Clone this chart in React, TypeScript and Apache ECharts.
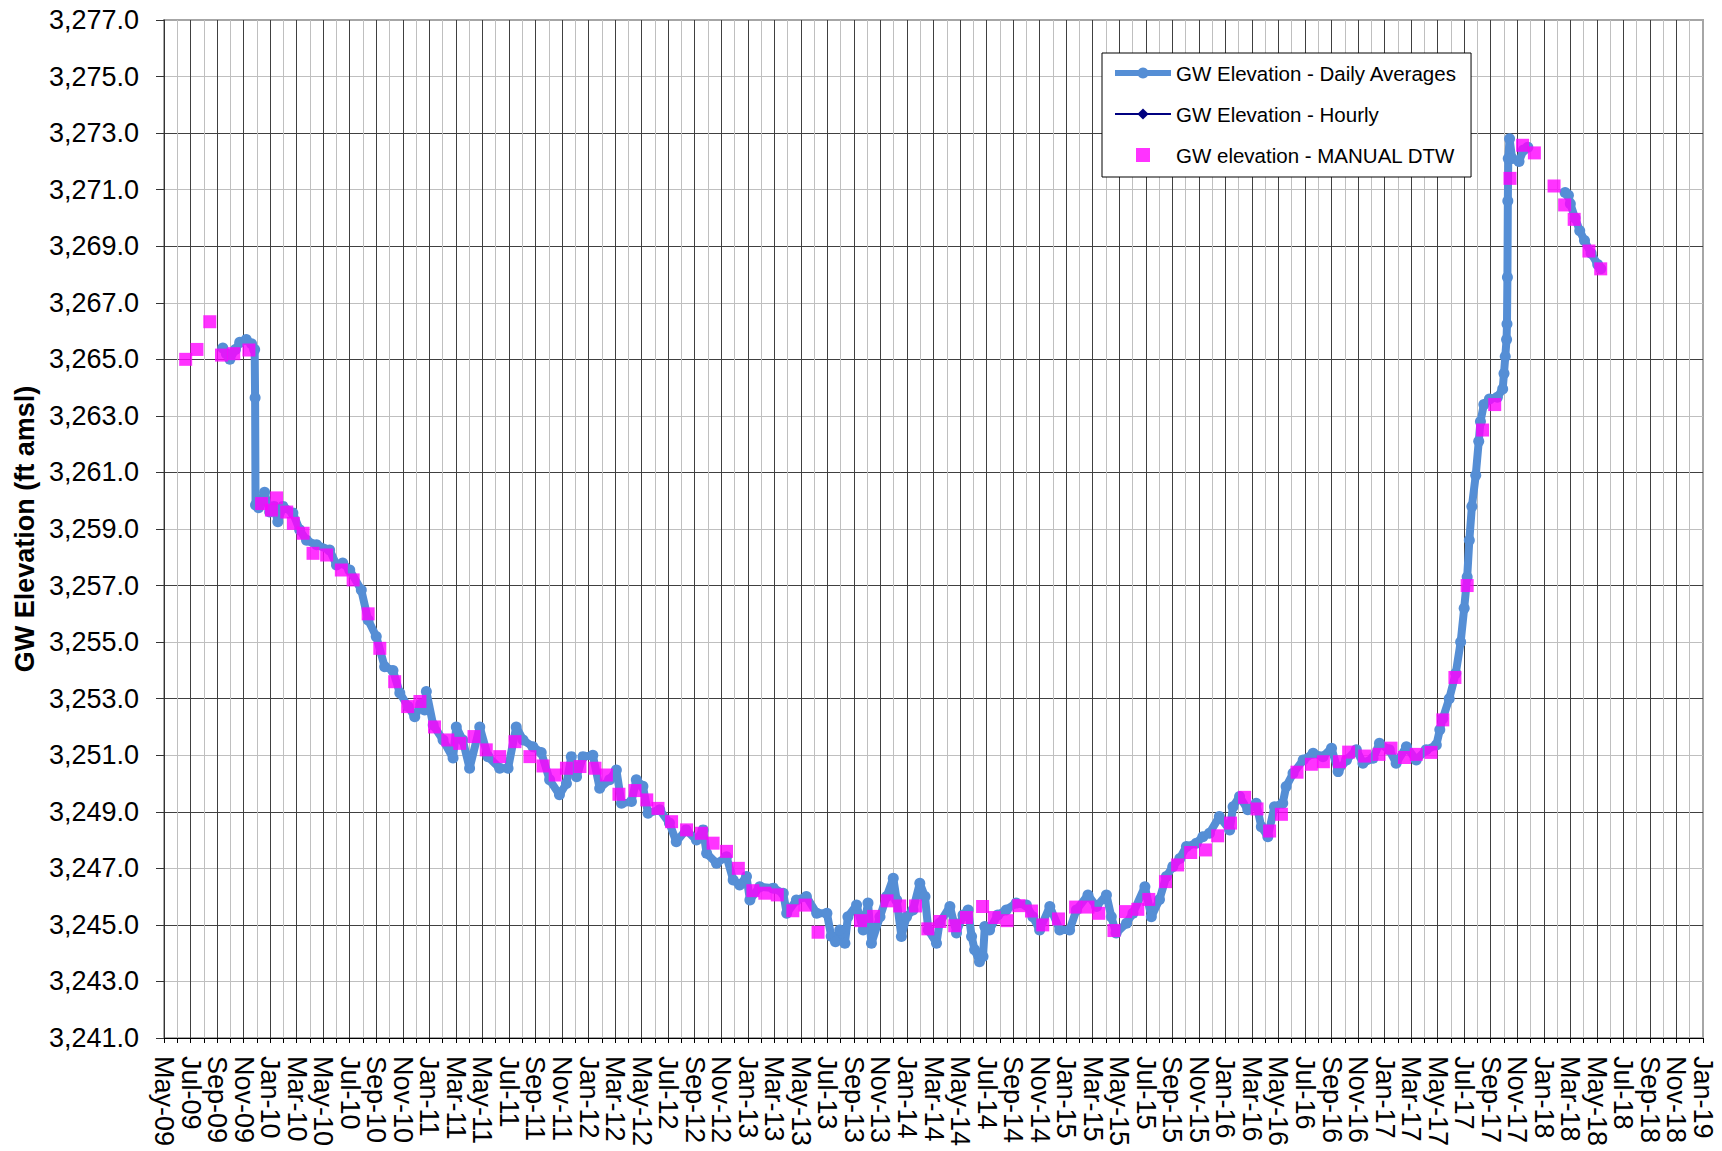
import React, { useEffect, useRef } from 'react';
import * as echarts from 'echarts';

const FONT = '"Liberation Sans", Arial, Helvetica, sans-serif';

// Axis tick labels (every 2 months from May-09, index = months since May-09)
const X_TICK_LABELS = [
  'May-09', 'Jul-09', 'Sep-09', 'Nov-09',
  'Jan-10', 'Mar-10', 'May-10', 'Jul-10', 'Sep-10', 'Nov-10',
  'Jan-11', 'Mar-11', 'May-11', 'Jul-11', 'Sep-11', 'Nov-11',
  'Jan-12', 'Mar-12', 'May-12', 'Jul-12', 'Sep-12', 'Nov-12',
  'Jan-13', 'Mar-13', 'May-13', 'Jul-13', 'Sep-13', 'Nov-13',
  'Jan-14', 'Mar-14', 'May-14', 'Jul-14', 'Sep-14', 'Nov-14',
  'Jan-15', 'Mar-15', 'May-15', 'Jul-15', 'Sep-15', 'Nov-15',
  'Jan-16', 'Mar-16', 'May-16', 'Jul-16', 'Sep-16', 'Nov-16',
  'Jan-17', 'Mar-17', 'May-17', 'Jul-17', 'Sep-17', 'Nov-17',
  'Jan-18', 'Mar-18', 'May-18', 'Jul-18', 'Sep-18', 'Nov-18',
  'Jan-19',
];
const Y_TICK_VALUES = [
  3241, 3243, 3245, 3247, 3249, 3251, 3253, 3255, 3257, 3259,
  3261, 3263, 3265, 3267, 3269, 3271, 3273, 3275, 3277,
];

// GW Elevation - Daily Averages (null = gap in record)
const DAILY: [string, number | null][] = [
  ['2009-09-14', 3265.4], ['2009-09-22', 3265.2], ['2009-09-30', 3265.0],
  ['2009-10-13', 3265.35], ['2009-10-23', 3265.6], ['2009-11-07', 3265.7],
  ['2009-11-19', 3265.55], ['2009-11-26', 3265.35], ['2009-11-27', 3263.64],
  ['2009-11-28', 3259.85], ['2009-12-05', 3259.75], ['2009-12-12', 3260.0],
  ['2009-12-19', 3260.3], ['2009-12-31', 3259.6], ['2010-01-10', 3259.8],
  ['2010-01-19', 3259.26], ['2010-01-31', 3259.8], ['2010-02-21', 3259.57],
  ['2010-03-08', 3258.97], ['2010-03-24', 3258.6], ['2010-04-16', 3258.44],
  ['2010-05-16', 3258.26], ['2010-06-01', 3257.73], ['2010-06-15', 3257.8],
  ['2010-07-01', 3257.55], ['2010-07-28', 3256.84], ['2010-08-13', 3255.78],
  ['2010-09-01', 3255.2], ['2010-09-20', 3254.13], ['2010-10-09', 3254.0],
  ['2010-10-25', 3253.2], ['2010-11-13', 3252.72], ['2010-11-28', 3252.36],
  ['2010-12-12', 3252.8], ['2010-12-21', 3252.6], ['2010-12-25', 3253.25],
  ['2011-01-10', 3252.07], ['2011-02-02', 3251.54], ['2011-02-23', 3250.9],
  ['2011-03-02', 3252.0], ['2011-03-17', 3251.54], ['2011-04-02', 3250.54],
  ['2011-04-25', 3252.0], ['2011-05-14', 3250.95], ['2011-06-10', 3250.54],
  ['2011-06-29', 3250.54], ['2011-07-18', 3252.0], ['2011-08-03', 3251.54],
  ['2011-08-26', 3251.3], ['2011-09-14', 3251.1], ['2011-10-03', 3250.13],
  ['2011-10-26', 3249.6], ['2011-11-11', 3250.0], ['2011-11-22', 3250.95],
  ['2011-12-04', 3250.24], ['2011-12-19', 3250.95], ['2012-01-11', 3251.0],
  ['2012-01-27', 3249.83], ['2012-02-18', 3250.13], ['2012-03-04', 3250.48],
  ['2012-03-16', 3249.3], ['2012-04-08', 3249.36], ['2012-04-19', 3250.13],
  ['2012-05-04', 3249.9], ['2012-05-16', 3248.95], ['2012-06-12', 3249.07],
  ['2012-07-04', 3248.6], ['2012-07-20', 3247.94], ['2012-08-12', 3248.36],
  ['2012-09-05', 3248.0], ['2012-09-20', 3248.36], ['2012-09-28', 3247.53],
  ['2012-10-21', 3247.18], ['2012-11-13', 3247.41], ['2012-11-28', 3246.59],
  ['2012-12-13', 3246.41], ['2012-12-29', 3246.71], ['2013-01-06', 3245.88],
  ['2013-01-29', 3246.35], ['2013-02-27', 3246.3], ['2013-03-22', 3246.12],
  ['2013-03-30', 3245.41], ['2013-04-21', 3245.88], ['2013-05-14', 3246.0],
  ['2013-06-07', 3245.41], ['2013-06-30', 3245.41], ['2013-07-10', 3244.6],
  ['2013-07-20', 3244.4], ['2013-07-30', 3244.82], ['2013-08-11', 3244.35],
  ['2013-08-18', 3245.29], ['2013-09-07', 3245.7], ['2013-09-22', 3244.82],
  ['2013-10-03', 3245.77], ['2013-10-11', 3244.35], ['2013-10-31', 3245.29],
  ['2013-11-15', 3246.0], ['2013-11-30', 3246.65], ['2013-12-08', 3245.88],
  ['2013-12-19', 3244.59], ['2013-12-31', 3245.29], ['2014-01-15', 3245.53],
  ['2014-01-31', 3246.47], ['2014-02-11', 3246.0], ['2014-02-18', 3244.82],
  ['2014-03-08', 3244.35], ['2014-03-15', 3245.06], ['2014-04-08', 3245.65],
  ['2014-04-23', 3244.71], ['2014-05-08', 3245.35], ['2014-05-20', 3245.53],
  ['2014-05-28', 3244.59], ['2014-06-04', 3244.12], ['2014-06-15', 3243.7],
  ['2014-06-23', 3243.88], ['2014-06-27', 3244.94], ['2014-07-08', 3244.82],
  ['2014-07-27', 3245.35], ['2014-08-16', 3245.53], ['2014-09-08', 3245.77],
  ['2014-10-01', 3245.7], ['2014-10-16', 3245.29], ['2014-11-01', 3244.82],
  ['2014-11-24', 3245.65], ['2014-12-17', 3244.82], ['2015-01-09', 3244.82],
  ['2015-01-25', 3245.53], ['2015-02-19', 3246.06], ['2015-03-10', 3245.65],
  ['2015-04-02', 3246.06], ['2015-04-13', 3245.29], ['2015-04-24', 3244.71],
  ['2015-05-18', 3245.06], ['2015-06-02', 3245.41], ['2015-06-29', 3246.35],
  ['2015-07-14', 3245.29], ['2015-08-02', 3245.9], ['2015-08-18', 3246.71],
  ['2015-09-02', 3247.06], ['2015-09-18', 3247.35], ['2015-10-03', 3247.77],
  ['2015-10-26', 3247.89], ['2015-11-10', 3248.12], ['2015-11-25', 3248.24],
  ['2015-12-18', 3248.83], ['2016-01-11', 3248.36], ['2016-01-19', 3249.18],
  ['2016-02-03', 3249.54], ['2016-02-21', 3249.07], ['2016-03-11', 3249.3],
  ['2016-03-23', 3248.47], ['2016-04-07', 3248.12], ['2016-04-22', 3249.18],
  ['2016-05-11', 3249.3], ['2016-05-19', 3249.89], ['2016-06-04', 3250.36],
  ['2016-06-27', 3250.83], ['2016-07-20', 3251.07], ['2016-08-12', 3250.95],
  ['2016-09-01', 3251.25], ['2016-09-16', 3250.42], ['2016-10-05', 3250.83],
  ['2016-10-28', 3251.19], ['2016-11-12', 3250.72], ['2016-12-05', 3250.89],
  ['2016-12-20', 3251.42], ['2017-01-12', 3251.19], ['2017-01-28', 3250.72],
  ['2017-02-19', 3251.3], ['2017-03-13', 3250.83], ['2017-04-05', 3251.19],
  ['2017-04-28', 3251.36], ['2017-05-06', 3251.9], ['2017-05-13', 3252.3],
  ['2017-05-28', 3253.0], ['2017-06-12', 3253.9], ['2017-06-23', 3255.0],
  ['2017-07-01', 3256.2], ['2017-07-08', 3257.3], ['2017-07-13', 3258.6],
  ['2017-07-19', 3259.8], ['2017-07-28', 3260.9], ['2017-08-04', 3262.1],
  ['2017-08-08', 3262.8], ['2017-08-16', 3263.4], ['2017-08-29', 3263.6],
  ['2017-09-16', 3263.66], ['2017-09-28', 3263.95], ['2017-10-01', 3264.5],
  ['2017-10-04', 3265.1], ['2017-10-07', 3265.7], ['2017-10-08', 3266.25],
  ['2017-10-09', 3267.9], ['2017-10-10', 3270.6], ['2017-10-11', 3272.1],
  ['2017-10-14', 3272.8], ['2017-10-20', 3272.1], ['2017-11-05', 3272.0],
  ['2017-11-15', 3272.4], ['2017-11-25', 3272.5],
  ['2018-01-01', null],
  ['2018-02-18', 3270.9], ['2018-02-25', 3270.8], ['2018-03-01', 3270.5],
  ['2018-03-12', 3270.0], ['2018-03-23', 3269.55], ['2018-04-03', 3269.2],
  ['2018-04-18', 3268.75], ['2018-05-03', 3268.35], ['2018-05-10', 3268.2],
];

// GW Elevation - Hourly (hidden beneath the daily averages; legend entry only)
const HOURLY: [string, number][] = [];

// GW elevation - MANUAL DTW
const MANUAL: [string, number][] = [
  ['2009-06-20', 3265.0], ['2009-07-16', 3265.35], ['2009-08-15', 3266.33],
  ['2009-09-11', 3265.15], ['2009-10-09', 3265.2], ['2009-11-13', 3265.33],
  ['2009-12-12', 3259.9], ['2010-01-04', 3259.67], ['2010-01-16', 3260.1],
  ['2010-02-08', 3259.6], ['2010-02-22', 3259.2], ['2010-03-16', 3258.85],
  ['2010-04-08', 3258.14], ['2010-05-09', 3258.08], ['2010-06-12', 3257.55],
  ['2010-07-09', 3257.2], ['2010-08-13', 3256.0], ['2010-09-09', 3254.78],
  ['2010-10-13', 3253.6], ['2010-11-12', 3252.72], ['2010-12-10', 3252.9],
  ['2011-01-13', 3252.0], ['2011-02-12', 3251.54], ['2011-03-10', 3251.42],
  ['2011-04-12', 3251.66], ['2011-05-10', 3251.19], ['2011-06-10', 3250.95],
  ['2011-07-15', 3251.48], ['2011-08-19', 3250.95], ['2011-09-18', 3250.62],
  ['2011-10-16', 3250.3], ['2011-11-11', 3250.54], ['2011-12-12', 3250.6],
  ['2012-01-16', 3250.54], ['2012-02-11', 3250.3], ['2012-03-10', 3249.62],
  ['2012-04-16', 3249.75], ['2012-05-13', 3249.42], ['2012-06-08', 3249.12],
  ['2012-07-09', 3248.65], ['2012-08-13', 3248.36], ['2012-09-16', 3248.24],
  ['2012-10-13', 3247.89], ['2012-11-13', 3247.6], ['2012-12-10', 3247.0],
  ['2013-01-13', 3246.21], ['2013-02-09', 3246.12], ['2013-03-08', 3246.06],
  ['2013-04-13', 3245.5], ['2013-05-11', 3245.7], ['2013-06-10', 3244.74],
  ['2013-09-16', 3245.15], ['2013-10-16', 3245.3], ['2013-11-16', 3245.85],
  ['2013-12-15', 3245.67], ['2014-01-21', 3245.67], ['2014-02-17', 3244.86],
  ['2014-03-16', 3245.12], ['2014-04-19', 3244.97], ['2014-05-16', 3245.26],
  ['2014-06-22', 3245.65], ['2014-07-19', 3245.26], ['2014-08-18', 3245.15],
  ['2014-09-14', 3245.68], ['2014-10-13', 3245.49], ['2014-11-08', 3245.0],
  ['2014-12-14', 3245.21], ['2015-01-23', 3245.63], ['2015-02-19', 3245.63],
  ['2015-03-15', 3245.41], ['2015-04-19', 3244.8], ['2015-05-16', 3245.47],
  ['2015-06-13', 3245.55], ['2015-07-08', 3245.9], ['2015-08-16', 3246.53],
  ['2015-09-13', 3247.12], ['2015-10-13', 3247.56], ['2015-11-16', 3247.65],
  ['2015-12-14', 3248.15], ['2016-01-13', 3248.6], ['2016-02-14', 3249.51],
  ['2016-03-13', 3249.1], ['2016-04-11', 3248.32], ['2016-05-08', 3248.91],
  ['2016-06-13', 3250.4], ['2016-07-16', 3250.68], ['2016-08-13', 3250.77],
  ['2016-09-19', 3250.77], ['2016-10-10', 3251.11], ['2016-11-16', 3250.97],
  ['2016-12-19', 3251.03], ['2017-01-16', 3251.25], ['2017-02-15', 3250.92],
  ['2017-03-13', 3251.03], ['2017-04-16', 3251.1], ['2017-05-13', 3252.25],
  ['2017-06-10', 3253.75], ['2017-07-08', 3257.0], ['2017-08-13', 3262.5],
  ['2017-09-10', 3263.4], ['2017-10-15', 3271.4], ['2017-11-13', 3272.57],
  ['2017-12-10', 3272.3], ['2018-01-25', 3271.13], ['2018-02-17', 3270.46],
  ['2018-03-10', 3269.95], ['2018-04-13', 3268.83], ['2018-05-10', 3268.2],
];

// Converts a date into months since 1 May 2009 (the axis origin).
function monthIndex(date: string): number {
  const [y, m, d] = date.split('-').map(Number);
  const k = (y - 2009) * 12 + (m - 5);
  const dim = new Date(y, m, 0).getDate();
  return k + (d - 1) / dim;
}

function fmtElev(v: number): string {
  return v.toLocaleString('en-US', { minimumFractionDigits: 1, maximumFractionDigits: 1 });
}

// Legend icon for the manual points: a square centred in the icon box
// (zero-area end points keep the path's bounds equal to the icon box).
const SQUARE_ICON = 'path://M0,7L0.01,7L0,7.01ZM21,0L35,0L35,14L21,14ZM56,7L55.99,7L56,7.01Z';

export default function App() {
  const ref = useRef<HTMLDivElement>(null);

  useEffect(() => {
    if (!ref.current) return;
    const chart = echarts.init(ref.current, undefined, { renderer: 'svg' });

    const dailyData = DAILY.map(([d, v]) => [monthIndex(d), v === null ? '-' : v]);
    const hourlyData = HOURLY.map(([d, v]) => [monthIndex(d), v]);
    const manualData = MANUAL.map(([d, v]) => [monthIndex(d), v]);

    const option: any = {
      animation: false,
      backgroundColor: '#ffffff',
      textStyle: { fontFamily: FONT },
      grid: {
        left: 164,
        right: 19,
        top: 20,
        bottom: 113,
        show: true,
        borderColor: '#a6a6a6',
        borderWidth: 2,
        backgroundColor: 'transparent',
      },
      legend: {
        orient: 'vertical',
        left: 1102,
        top: 53,
        padding: [8, 14, 10, 10],
        itemGap: 17,
        itemWidth: 56,
        itemHeight: 14,
        backgroundColor: '#ffffff',
        borderColor: '#000000',
        borderWidth: 1,
        textStyle: { fontFamily: FONT, fontSize: 20.5, color: '#000', lineHeight: 24 },
        data: [
          { name: 'GW Elevation - Daily Averages', lineStyle: { width: 6 } },
          { name: 'GW Elevation - Hourly', lineStyle: { width: 2 } },
          { name: 'GW elevation - MANUAL DTW', icon: SQUARE_ICON },
        ],
      },
      xAxis: {
        type: 'value',
        min: 0,
        max: 116,
        interval: 1,
        axisLine: { show: true, onZero: false, lineStyle: { color: '#000', width: 1 } },
        axisTick: { show: true, length: 5, lineStyle: { color: '#000', width: 1 } },
        axisLabel: {
          showMinLabel: true,
          showMaxLabel: true,
          hideOverlap: false,
          rotate: -90,
          margin: 18,
          fontSize: 27,
          color: '#000',
          fontFamily: FONT,
          formatter: (v: number) => {
            const i = Math.round(v);
            return i % 2 === 0 ? X_TICK_LABELS[i / 2] ?? '' : '';
          },
        },
        splitLine: {
          show: true,
          showMaxLine: false,
          lineStyle: { color: ['#404040', '#bfbfbf'], width: 1 },
        },
      },
      yAxis: {
        type: 'value',
        min: 3241,
        max: 3277,
        interval: 1,
        name: 'GW Elevation (ft amsl)',
        nameLocation: 'middle',
        nameRotate: 90,
        nameGap: 124,
        nameTextStyle: { fontFamily: FONT, fontSize: 27, fontWeight: 'bold', color: '#000' },
        axisLine: { show: true, onZero: false, lineStyle: { color: '#333', width: 1 } },
        axisTick: {
          show: true,
          customValues: Y_TICK_VALUES,
          length: 8,
          lineStyle: { color: '#333', width: 1 },
        },
        axisLabel: {
          customValues: Y_TICK_VALUES,
          showMinLabel: true,
          showMaxLabel: true,
          margin: 25,
          fontSize: 27,
          color: '#000',
          fontFamily: FONT,
          formatter: (v: number) => {
            const r = Math.round(v);
            return (r - 3241) % 2 === 0 ? fmtElev(r) : '';
          },
        },
        splitLine: {
          show: true,
          showMaxLine: false,
          lineStyle: { color: ['#404040', '#bfbfbf'], width: 1 },
        },
      },
      series: [
        {
          name: 'GW Elevation - Daily Averages',
          type: 'line',
          data: dailyData,
          connectNulls: false,
          symbol: 'circle',
          symbolSize: 11,
          showSymbol: true,
          lineStyle: { color: '#558ED5', width: 8 },
          itemStyle: { color: '#558ED5' },
          z: 2,
        },
        {
          name: 'GW Elevation - Hourly',
          type: 'line',
          data: hourlyData,
          symbol: 'diamond',
          symbolSize: 6,
          lineStyle: { color: '#000080', width: 2 },
          itemStyle: { color: '#000080' },
          z: 3,
        },
        {
          name: 'GW elevation - MANUAL DTW',
          type: 'scatter',
          data: manualData,
          symbol: 'rect',
          symbolSize: 13,
          itemStyle: { color: '#FF00FF' },
          z: 4,
        },
      ],
    };

    chart.setOption(option);
    return () => chart.dispose();
  }, []);

  return (
    <div
      ref={ref}
      style={{ position: 'absolute', left: 0, top: 0, width: 1722, height: 1151, background: '#fff' }}
    />
  );
}
